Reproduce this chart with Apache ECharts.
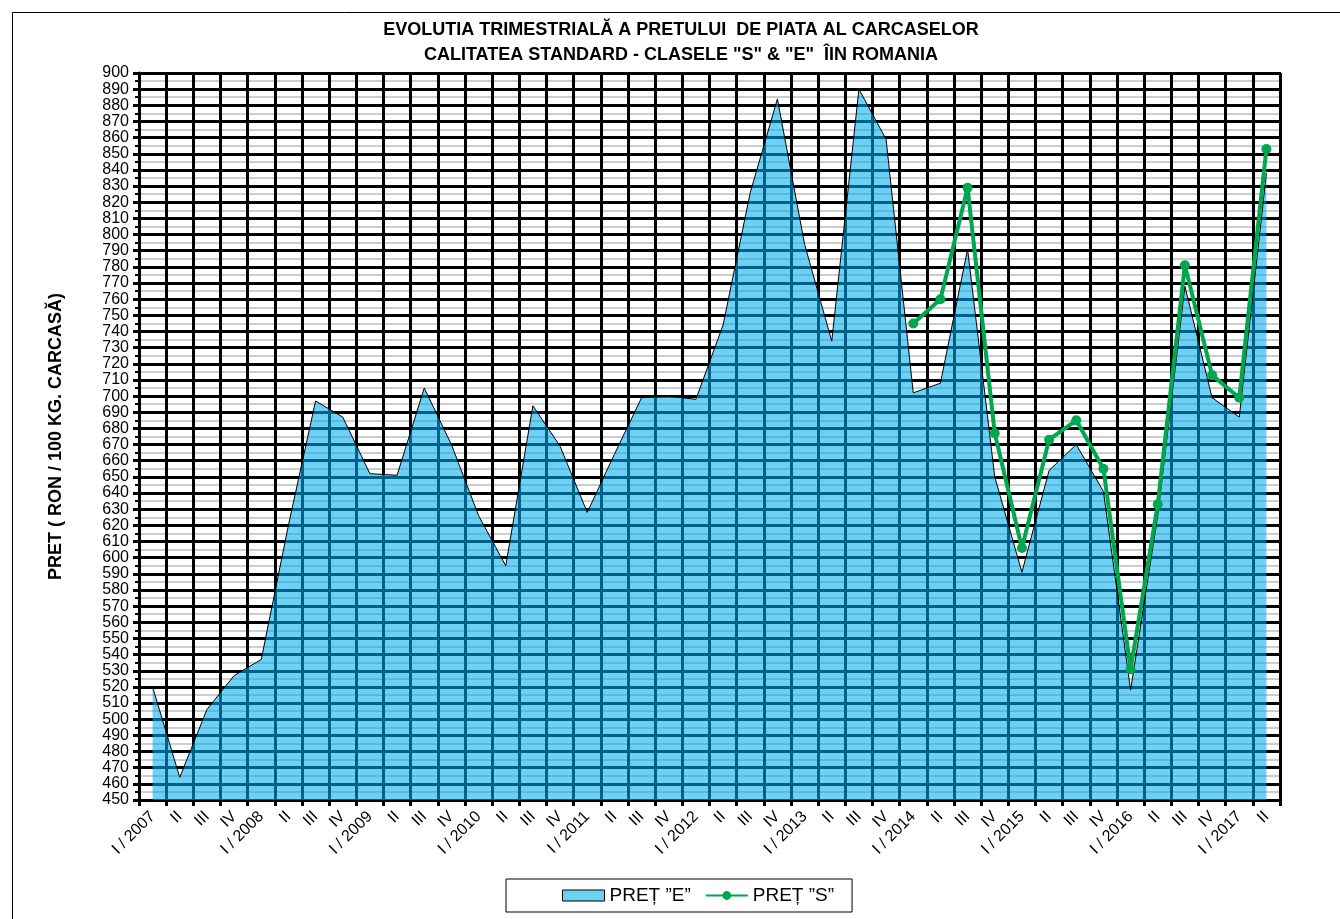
<!DOCTYPE html>
<html>
<head>
<meta charset="utf-8">
<title>Evolutia trimestriala a pretului carcaselor</title>
<script src="https://cdn.jsdelivr.net/npm/echarts@6/dist/echarts.min.js"></script>
<style>
  html, body { margin: 0; padding: 0; background: #fff; }
  #chart { width: 1340px; height: 919px; }
</style>
</head>
<body>
<div id="chart"></div>
<script>
// trimestre I / 2007 ... II / 2017
const quarters = [
  'I / 2007', 'II', 'III', 'IV',
  'I / 2008', 'II', 'III', 'IV',
  'I / 2009', 'II', 'III', 'IV',
  'I / 2010', 'II', 'III', 'IV',
  'I / 2011', 'II', 'III', 'IV',
  'I / 2012', 'II', 'III', 'IV',
  'I / 2013', 'II', 'III', 'IV',
  'I / 2014', 'II', 'III', 'IV',
  'I / 2015', 'II', 'III', 'IV',
  'I / 2016', 'II', 'III', 'IV',
  'I / 2017', 'II'
];

// pret clasa "E"
const pretE = [
  520, 464, 506, 527,
  537, 620, 697, 687,
  652, 651, 705, 670,
  626, 595, 694, 669,
  628, 664, 699, 700,
  698, 744, 826, 884,
  794, 734, 890, 859,
  702, 708, 791, 650,
  591, 654, 670, 641,
  518, 626, 768, 699,
  687, 838
];

// pret clasa "S" (doar din 2014)
const pretS = [
  null, null, null, null,
  null, null, null, null,
  null, null, null, null,
  null, null, null, null,
  null, null, null, null,
  null, null, null, null,
  null, null, null, null,
  745, 760, 829, 677,
  606, 673, 685, 655,
  531, 633, 781, 713,
  699, 853
];

const chart = echarts.init(document.getElementById('chart'));

chart.setOption({
  animation: false,
  backgroundColor: '#fff',
  textStyle: { fontFamily: 'Liberation Sans, Arial, sans-serif' },
  title: {
    text: 'EVOLUTIA TRIMESTRIALĂ A PRETULUI  DE PIATA AL CARCASELOR\nCALITATEA STANDARD - CLASELE "S" & "E"  ÎIN ROMANIA',
    left: 676,
    top: 13,
    textAlign: 'center',
    textStyle: {
      fontSize: 18,
      fontWeight: 'bold',
      color: '#000',
      lineHeight: 25
    }
  },
  graphic: [{
    type: 'rect',
    shape: { x: 12.5, y: 12.5, width: 1340, height: 920 },
    style: { fill: 'none', stroke: '#000', lineWidth: 1 },
    silent: true
  }],
  legend: {
    bottom: 7,
    left: 506,
    itemGap: 14,
    itemWidth: 42,
    itemHeight: 11,
    padding: [7, 18, 7, 56],
    borderColor: '#000',
    borderWidth: 1,
    textStyle: { fontSize: 19, color: '#000' },
    data: [
      {
        name: 'PREȚ ”E”',
        icon: 'rect',
        itemStyle: { color: '#6dd0f5', opacity: 1, borderColor: '#000', borderWidth: 1 }
      },
      { name: 'PREȚ ”S”' }
    ]
  },
  grid: {
    left: 139,
    right: 60,
    top: 73,
    bottom: 119,
    show: true,
    borderColor: '#000',
    borderWidth: 2
  },
  xAxis: {
    type: 'category',
    data: quarters,
    boundaryGap: true,
    axisLine: { lineStyle: { color: '#000', width: 3 } },
    axisTick: { show: true, length: 6, lineStyle: { color: '#000', width: 3 } },
    axisLabel: {
      interval: 0,
      rotate: 45,
      fontSize: 16,
      color: '#000',
      margin: 14
    },
    splitLine: { show: true, interval: 0, lineStyle: { color: '#000', width: 3 } }
  },
  yAxis: {
    type: 'value',
    min: 450,
    max: 900,
    interval: 10,
    name: 'PRET ( RON / 100 KG. CARCASĂ)',
    nameLocation: 'middle',
    nameGap: 74,
    nameTextStyle: { fontSize: 18, fontWeight: 'bold', color: '#000' },
    axisLine: { show: true, lineStyle: { color: '#000', width: 3 } },
    axisTick: { show: true, length: 6, lineStyle: { color: '#000', width: 3 } },
    minorTick: { show: true, splitNumber: 2, length: 4, lineStyle: { color: '#000', width: 2 } },
    axisLabel: { fontSize: 16, color: '#000', margin: 10 },
    splitLine: { show: true, lineStyle: { color: '#000', width: 3 } },
    minorSplitLine: { show: true, lineStyle: { color: '#bdbdbd', width: 1.5 } }
  },
  series: [
    {
      name: 'PREȚ ”E”',
      type: 'line',
      data: pretE,
      symbol: 'none',
      lineStyle: { color: '#000', width: 1 },
      itemStyle: { color: '#6dd0f5' },
      areaStyle: { color: 'rgb(0,173,237)', opacity: 0.57 },
      z: 2
    },
    {
      name: 'PREȚ ”S”',
      type: 'line',
      data: pretS,
      symbol: 'circle',
      symbolSize: 10,
      lineStyle: { color: '#00a650', width: 4 },
      itemStyle: { color: '#00a650' },
      z: 3
    }
  ]
});
</script>
</body>
</html>
